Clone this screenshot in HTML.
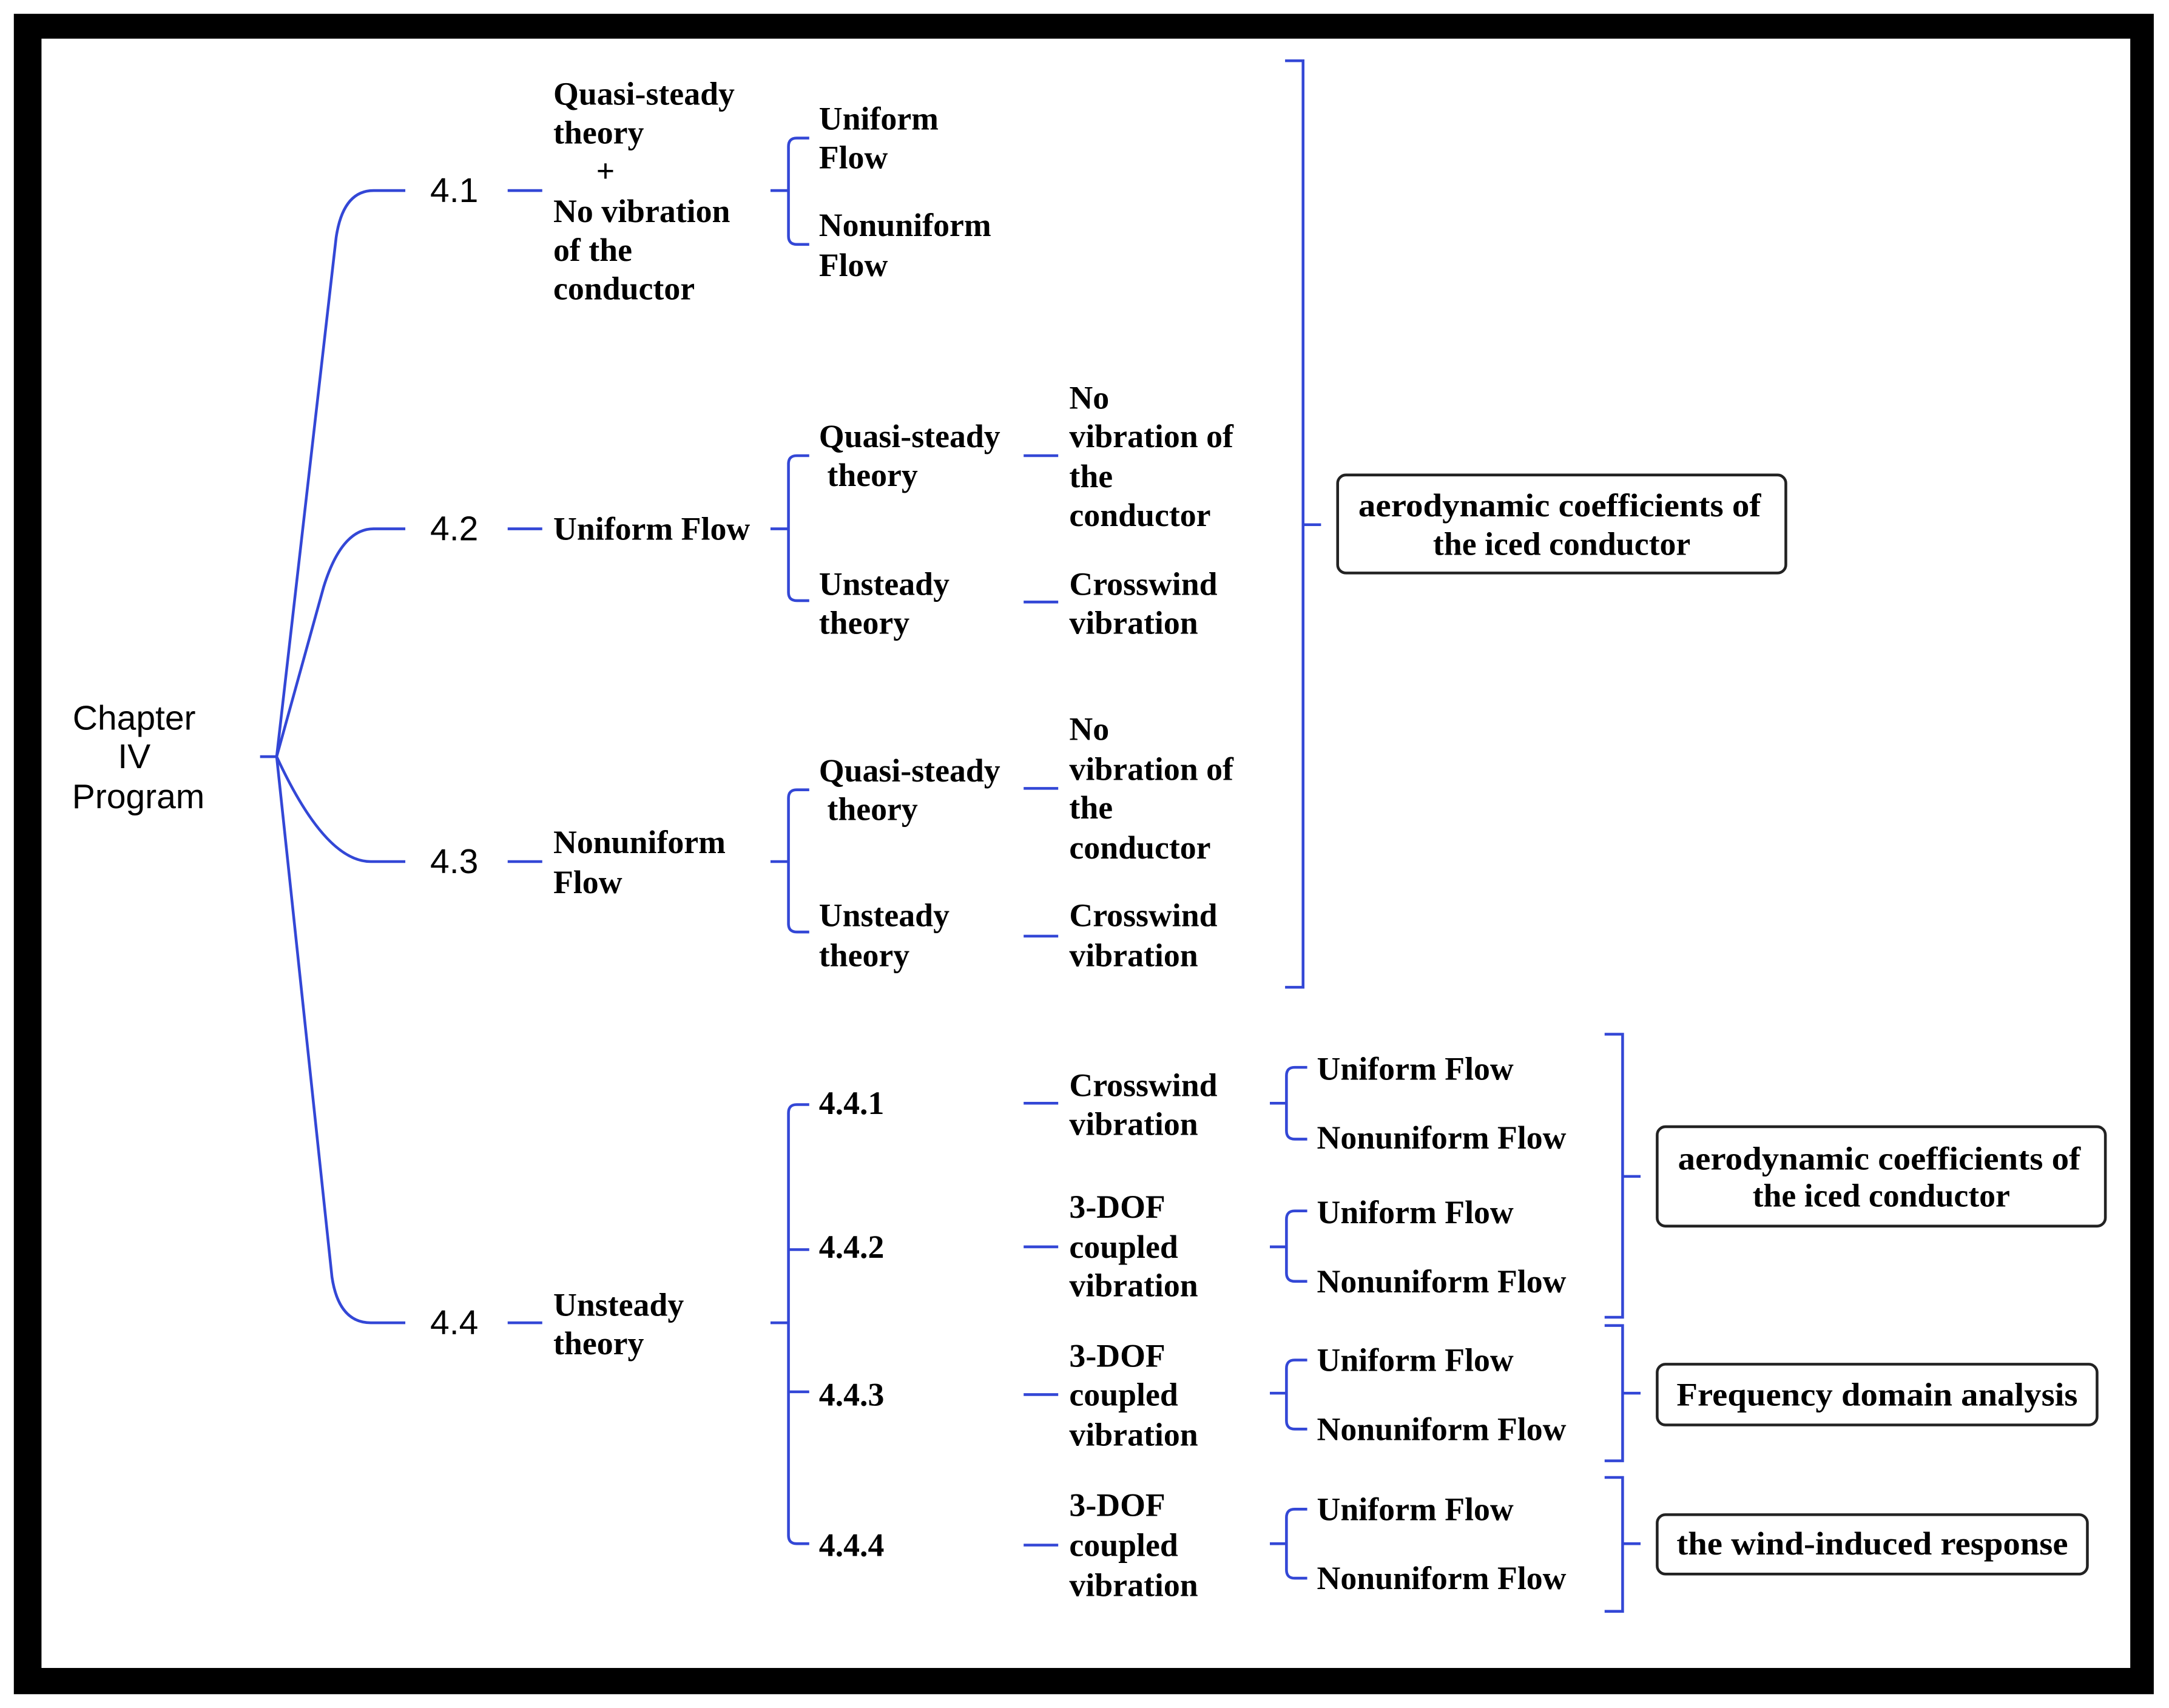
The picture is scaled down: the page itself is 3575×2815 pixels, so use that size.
<!DOCTYPE html>
<html><head><meta charset="utf-8"><style>html,body{margin:0;padding:0;background:#fff}svg{display:block}</style></head><body>
<svg width="3575" height="2815" viewBox="0 0 1568 1237" preserveAspectRatio="none" xmlns="http://www.w3.org/2000/svg">
<rect x="0" y="0" width="1568" height="1237" fill="#fff"/>
<rect x="10" y="10" width="1547" height="1217" fill="#000"/>
<rect x="30" y="28" width="1510" height="1180" fill="#fff"/>
<g fill="none" stroke="#3347d6" stroke-width="2">
<path d="M188 548 L200 548"/>
<path d="M200 548 L243 172 Q248 138 270 138 L293 138"/>
<path d="M200 548 L234 425 Q247 383 270 383 L293 383"/>
<path d="M200 548 Q235 624 268 624 L293 624"/>
<path d="M200 548 L240 925 Q245 958 268 958 L293 958"/>
<path d="M367 138H392M367 383H392M367 624H392M367 958H392"/>
<path d="M557 138H570M557 383H570M557 624H570M557 958H570"/>
<path d="M585 100H576Q570 100 570 106V171Q570 177 576 177H585"/>
<path d="M585 330H576Q570 330 570 336V429Q570 435 576 435H585"/>
<path d="M585 572H576Q570 572 570 578V669Q570 675 576 675H585"/>
<path d="M585 800H576Q570 800 570 806V1112Q570 1118 576 1118H585M570 905H585M570 1008H585"/>
<path d="M740 330H765M740 436H765M740 571H765M740 678H765"/>
<path d="M740 799H765M740 903H765M740 1010H765M740 1119H765"/>
<path d="M929 44H942V715H929M942 380H955"/>
<path d="M918 799H930M945 773H936Q930 773 930 779V819Q930 825 936 825H945"/>
<path d="M918 903H930M945 877H936Q930 877 930 883V922Q930 928 936 928H945"/>
<path d="M918 1009H930M945 985H936Q930 985 930 991V1029Q930 1035 936 1035H945"/>
<path d="M918 1118H930M945 1093H936Q930 1093 930 1099V1137Q930 1143 936 1143H945"/>
<path d="M1160 749H1173V954H1160M1173 852H1186"/>
<path d="M1160 960H1173V1058H1160M1173 1009H1186"/>
<path d="M1160 1070H1173V1167H1160M1173 1118H1186"/>
</g>
<g fill="none" stroke="#222" stroke-width="2">
<rect x="967" y="344" width="324" height="71" rx="6"/>
<rect x="1198" y="816" width="324" height="72" rx="6"/>
<rect x="1198" y="988" width="318" height="44" rx="6"/>
<rect x="1198" y="1097" width="311" height="43" rx="6"/>
</g>
<g font-family="'Liberation Sans',sans-serif" font-size="25" fill="#000" dominant-baseline="central">
<text x="97" y="520" text-anchor="middle">Chapter</text>
<text x="97" y="548" text-anchor="middle">IV</text>
<text x="100" y="577" text-anchor="middle">Program</text>
<text x="311" y="138">4.1</text>
<text x="311" y="383">4.2</text>
<text x="311" y="624">4.3</text>
<text x="311" y="958">4.4</text>
</g>
<g font-family="'Liberation Serif',serif" font-weight="bold" font-size="23.6" fill="#000" dominant-baseline="central">
<text x="400" y="68">Quasi-steady</text><text x="400" y="96">theory</text><text x="431" y="124">+</text>
<text x="400" y="153">No vibration</text><text x="400" y="181">of the</text><text x="400" y="209">conductor</text>
<text x="592" y="86">Uniform</text><text x="592" y="114">Flow</text>
<text x="592" y="163">Nonuniform</text><text x="592" y="192">Flow</text>
<text x="400" y="383">Uniform Flow</text>
<text x="592" y="316">Quasi-steady</text><text x="598" y="344">theory</text>
<text x="592" y="423">Unsteady</text><text x="592" y="451">theory</text>
<text x="773" y="288">No</text><text x="773" y="316">vibration of</text><text x="773" y="345">the</text><text x="773" y="373">conductor</text>
<text x="773" y="423">Crosswind</text><text x="773" y="451">vibration</text>
<text x="400" y="610">Nonuniform</text><text x="400" y="639">Flow</text>
<text x="592" y="558">Quasi-steady</text><text x="598" y="586">theory</text>
<text x="592" y="663">Unsteady</text><text x="592" y="692">theory</text>
<text x="773" y="528">No</text><text x="773" y="557">vibration of</text><text x="773" y="585">the</text><text x="773" y="614">conductor</text>
<text x="773" y="663">Crosswind</text><text x="773" y="692">vibration</text>
<text x="400" y="945">Unsteady</text><text x="400" y="973">theory</text>
<text x="592" y="799">4.4.1</text><text x="592" y="903">4.4.2</text><text x="592" y="1010">4.4.3</text><text x="592" y="1119">4.4.4</text>
<text x="773" y="786">Crosswind</text><text x="773" y="814">vibration</text>
<text x="773" y="874">3-DOF</text><text x="773" y="903">coupled</text><text x="773" y="931">vibration</text>
<text x="773" y="982">3-DOF</text><text x="773" y="1010">coupled</text><text x="773" y="1039">vibration</text>
<text x="773" y="1090">3-DOF</text><text x="773" y="1119">coupled</text><text x="773" y="1148">vibration</text>
<text x="952" y="774">Uniform Flow</text><text x="952" y="824">Nonuniform Flow</text>
<text x="952" y="878">Uniform Flow</text><text x="952" y="928">Nonuniform Flow</text>
<text x="952" y="985">Uniform Flow</text><text x="952" y="1035">Nonuniform Flow</text>
<text x="952" y="1093">Uniform Flow</text><text x="952" y="1143">Nonuniform Flow</text>
<text x="982" y="366" textLength="291" lengthAdjust="spacingAndGlyphs">aerodynamic coefficients of</text>
<text x="1129" y="394" text-anchor="middle">the iced conductor</text>
<text x="1213" y="839" textLength="291" lengthAdjust="spacingAndGlyphs">aerodynamic coefficients of</text>
<text x="1360" y="866" text-anchor="middle">the iced conductor</text>
<text x="1212" y="1010" textLength="290" lengthAdjust="spacingAndGlyphs">Frequency domain analysis</text>
<text x="1212" y="1118" textLength="283" lengthAdjust="spacingAndGlyphs">the wind-induced response</text>
</g>
</svg>
</body></html>
